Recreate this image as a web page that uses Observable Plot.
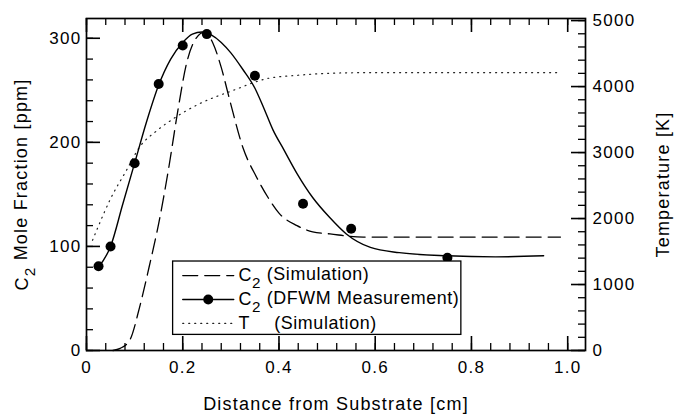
<!DOCTYPE html>
<html><head><meta charset="utf-8">
<script src="https://cdn.jsdelivr.net/npm/d3@7"></script>
<script src="https://cdn.jsdelivr.net/npm/@observablehq/plot@0.6"></script>
<style>
body{margin:0;background:#fff;}
#chart svg{display:block;}
g[font-size="17"] text{letter-spacing:1.3px;}
g[font-size="18"] text{letter-spacing:1.2px;}
g[font-size="17.9"] text{letter-spacing:0.6px;}
</style></head><body><div id="chart"></div>
<script>
// DFWM measurement points (distance cm, C2 ppm)
const dfwmX = [0.025, 0.05, 0.1, 0.15, 0.2, 0.25, 0.35, 0.45, 0.55, 0.75];
const dfwmY = [81, 100, 180, 256, 293, 304, 264, 141, 117, 89];
// Smooth curve through the DFWM measurement
const fitX = [0.025,0.05,0.075,0.1,0.125,0.15,0.175,0.2,0.22,0.24,0.26,0.28,0.3,0.325,0.35,0.3675,0.3875,0.41,0.4375,0.47,0.505,0.54,0.59,0.65,0.75,0.85,0.95];
const fitY = [80,100,140,180,220,255,280,296,304,306,303,296,286,270,252,234,212,193,170,147,128,112,99,94,91,90,91];
// C2 simulation (dashed)
const simX = [0.055,0.07,0.09,0.11,0.13,0.15,0.17,0.19,0.208,0.225,0.245,0.263,0.28,0.298,0.325,0.354,0.38,0.4,0.4375,0.47,0.506,0.575,0.7,0.985];
const simY = [0,2,10,41,80,122,173,231,276,298,306,295,272,240,195,166,145,132,120,114,112,109,109,109];
// Temperature simulation (dotted), K
const tempX = [0.0125,0.025,0.05,0.083,0.11,0.146,0.18,0.235,0.304,0.375,0.4375,0.5,0.575,0.7,0.85,0.98];
const tempY = [1670,1890,2300,2730,3080,3330,3510,3740,3940,4120,4170,4200,4210,4210,4210,4210];

// Axis ticks and labels
const xTickValues = [0, 0.2, 0.4, 0.6, 0.8, 1.0];
const xTickLabels = ["0", "0.2", "0.4", "0.6", "0.8", "1.0"];
const yTickValues = [0, 100, 200, 300];
const yTickLabels = ["0", "100", "200", "300"];
const tTickValues = [0, 1000, 2000, 3000, 4000, 5000];
const tTickLabels = ["0", "1000", "2000", "3000", "4000", "5000"];

const legendLabels = ["C\u2082 (Simulation)", "C\u2082 (DFWM Measurement)", "T", "(Simulation)"];
const xTitle = "Distance from Substrate [cm]";
const yTitle = "C\u2082 Mole Fraction [ppm]";
const tTitle = "Temperature [K]";

// ---- layout ----
const W = 678, H = 419, ML = 86, MR = 93, MT = 18, MB = 69;
const FW = W - ML - MR, FH = H - MT - MB;
const K = 317 / 5000; // K -> ppm-axis units
const MAJ = 14, MIN = 7;
const xMinor = d3.range(0, 1.0001, 0.04).map(v => +v.toFixed(2));
const yMinor = d3.range(0, 319, 20);
const tMinor = d3.range(0, 5001, 200);

const zip = (xs, ys) => xs.map((x, i) => ({x, y: ys[i]}));
const dfwm = zip(dfwmX, dfwmY), fit = zip(fitX, fitY), sim = zip(simX, simY);
const temp = tempX.map((x, i) => ({x, y: tempY[i] * K}));

// legend placement (data units)
const LG = {x1: 0.18, x2: 0.779, y1: 15, y2: 85.5, lx1: 0.2, lx2: 0.306, tx: 0.316, tx2: 0.39, rows: [72, 49, 26]};
const seg = (yv) => [{x: LG.lx1, y: yv}, {x: LG.lx2, y: yv}];

const chart = Plot.plot({
  width: W, height: H,
  marginLeft: ML, marginRight: MR, marginTop: MT, marginBottom: MB,
  x: {domain: [0, 1.037], axis: null},
  y: {domain: [0, 319], axis: null},
  style: {fontFamily: "'Liberation Sans', Arial, sans-serif", color: "black", background: "white"},
  marks: [
    Plot.line(sim, {x: "x", y: "y", stroke: "black", strokeWidth: 1.3, strokeDasharray: "15,7", curve: "monotone-x"}),
    Plot.line(temp, {x: "x", y: "y", stroke: "#222", strokeWidth: 1.2, strokeDasharray: "1,5", curve: "monotone-x"}),
    Plot.line(fit, {x: "x", y: "y", stroke: "black", strokeWidth: 1.4, curve: "monotone-x"}),
    Plot.dot(dfwm, {x: "x", y: "y", r: 5, fill: "black"}),
    // legend
    Plot.rect([0], {x1: () => LG.x1, x2: () => LG.x2, y1: () => LG.y1, y2: () => LG.y2, fill: "white", stroke: "black", strokeWidth: 1.3}),
    Plot.line(seg(LG.rows[0]), {x: "x", y: "y", stroke: "black", strokeWidth: 1.3, strokeDasharray: "15,7"}),
    Plot.line(seg(LG.rows[1]), {x: "x", y: "y", stroke: "black", strokeWidth: 1.4}),
    Plot.dot([0], {x: () => (LG.lx1 + LG.lx2) / 2, y: () => LG.rows[1], r: 5, fill: "black"}),
    Plot.line(seg(LG.rows[2]), {x: "x", y: "y", stroke: "#222", strokeWidth: 1.2, strokeDasharray: "1,5"}),
    Plot.text([0, 1, 2], {x: () => LG.tx, y: (d) => LG.rows[d], text: (d) => legendLabels[d], textAnchor: "start", fontSize: 17.9}),
    Plot.text([3], {x: () => LG.tx2, y: () => LG.rows[2], text: (d) => legendLabels[d], textAnchor: "start", fontSize: 17.9}),
    // ticks (inward)
    Plot.tickY(yMinor, {y: d => d, insetRight: FW - MIN, strokeWidth: 1.3}),
    Plot.tickY(yTickValues, {y: d => d, insetRight: FW - MAJ, strokeWidth: 1.6}),
    Plot.tickY(tMinor, {y: d => d * K, insetLeft: FW - MIN, strokeWidth: 1.3}),
    Plot.tickY(tTickValues, {y: d => d * K, insetLeft: FW - MAJ, strokeWidth: 1.6}),
    Plot.tickX(xMinor, {x: d => d, insetBottom: FH - MIN, strokeWidth: 1.3}),
    Plot.tickX(xTickValues, {x: d => d, insetBottom: FH - MAJ, strokeWidth: 1.6}),
    Plot.tickX(xMinor, {x: d => d, insetTop: FH - MIN, strokeWidth: 1.3}),
    Plot.tickX(xTickValues, {x: d => d, insetTop: FH - MAJ, strokeWidth: 1.6}),
    Plot.frame({stroke: "black", strokeWidth: 1.7}),
    // tick labels
    Plot.text(yTickValues, {y: d => d, text: (d, i) => yTickLabels[i], frameAnchor: "left", textAnchor: "end", dx: -5, fontSize: 17}),
    Plot.text(tTickValues, {y: d => d * K, text: (d, i) => tTickLabels[i], frameAnchor: "right", textAnchor: "start", dx: 7, fontSize: 17}),
    Plot.text(xTickValues, {x: d => d, text: (d, i) => xTickLabels[i], frameAnchor: "bottom", dy: 22, fontSize: 17}),
    // titles
    Plot.text([xTitle], {text: d => d, frameAnchor: "bottom", dy: 59, fontSize: 18}),
    Plot.text([yTitle], {text: d => d, frameAnchor: "left", textAnchor: "middle", dx: -64, rotate: -90, fontSize: 18}),
    Plot.text([tTitle], {text: d => d, frameAnchor: "right", textAnchor: "middle", dx: 78, rotate: -90, fontSize: 18})
  ]
});

// render "C₂" with a real lowered subscript
d3.select(chart).selectAll("text").each(function() {
  const s = this.textContent;
  const i = s.indexOf("C\u2082");
  if (i < 0) return;
  const el = d3.select(this);
  el.text(null);
  el.append("tspan").text(s.slice(0, i) + "C");
  el.append("tspan").attr("dy", "0.45em").attr("font-size", "0.85em").text("2");
  el.append("tspan").attr("dy", "-0.45em").text(s.slice(i + 2));
});

document.getElementById("chart").appendChild(chart);
</script>
</body></html>
